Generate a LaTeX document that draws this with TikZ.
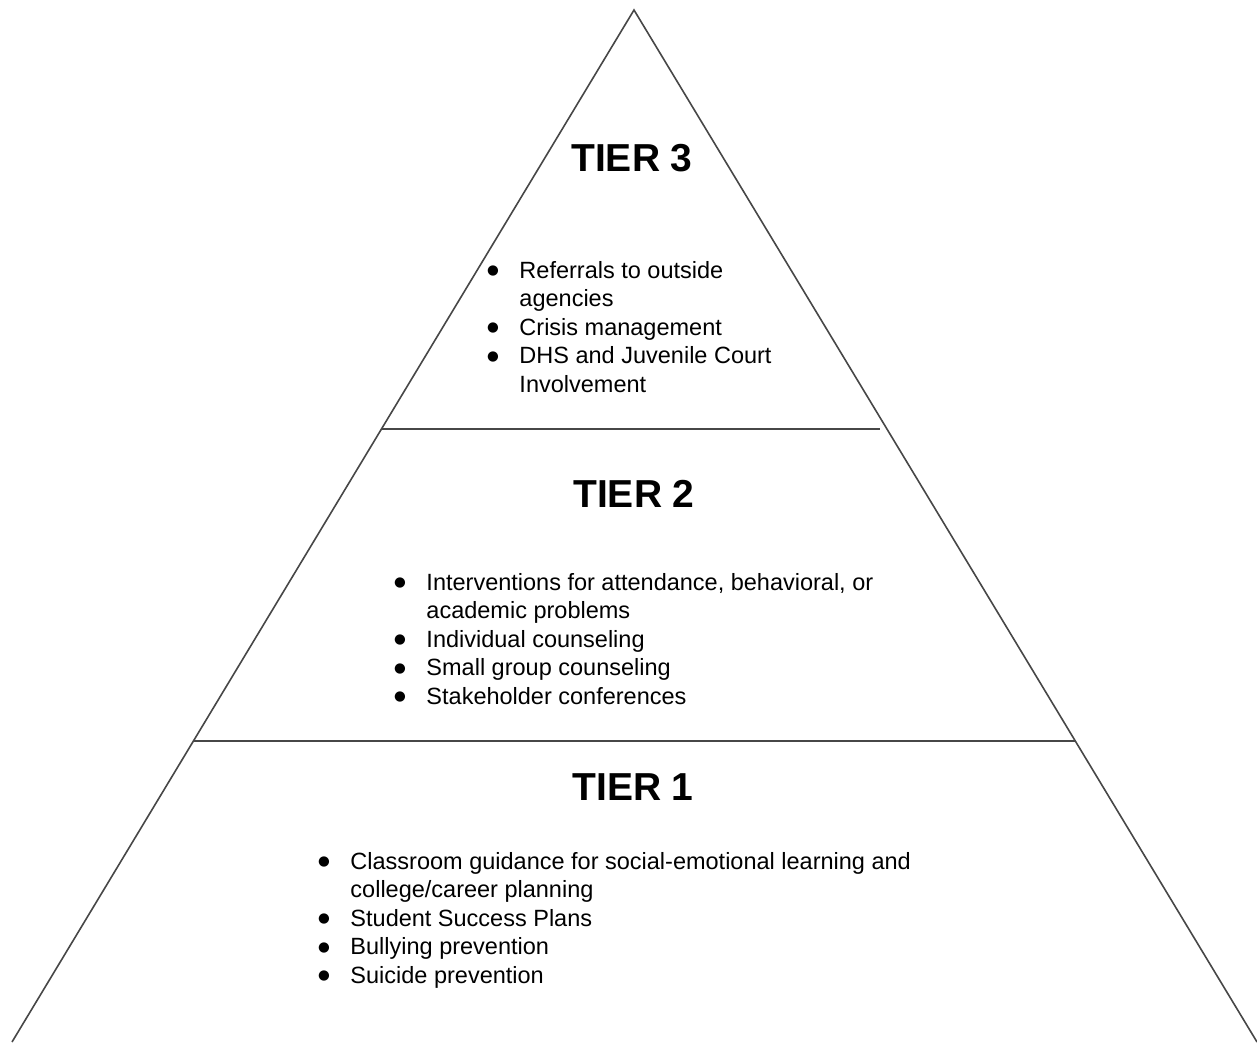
\documentclass[tikz,border=0pt]{standalone}
\usepackage{fontspec}
\setmainfont{Liberation Sans}
\newfontfamily\dotfont{DejaVu Sans}
\usepackage{tikz}

\newcommand{\tierdot}{\raisebox{3.5pt}{\dotfont\fontsize{13.5}{13.5}\selectfont ●}}

\tikzset{
	tiertitle/.style={font=\bfseries\fontsize{39}{39}\selectfont},
	tieritems/.style={anchor=base west, inner sep=0pt, font=\fontsize{23.5}{28.6}\selectfont},
}

\begin{document}
\begin{tikzpicture}[x=1pt,y=-1pt]
			\useasboundingbox (0,0) rectangle (1257,1042);
			% pyramid outline and the two dividing lines
			\coordinate (apex) at (634,10);
			\coordinate (baseleft) at (12,1042);
			\coordinate (baseright) at (1257,1042);
			\draw[line width=1.6pt, black!72] (baseleft) -- (apex) -- (baseright);
			\draw[line width=1.6pt, black!72] (382,429) -- (880,429);
			\draw[line width=1.6pt, black!72] (193,741) -- (1075,741);
			% tier 3
			\node[tiertitle] (tier3) at (632,158) {TIER 3};
			\node[tieritems] (list3) at (487,278) {\begin{tabular}[t]{@{}l@{\hspace{20.5pt}}l@{}}
				\tierdot & Referrals to outside\\
				 & agencies\\
				\tierdot & Crisis management\\
				\tierdot & DHS and Juvenile Court\\
				 & Involvement
			\end{tabular}};
			% tier 2
			\node[tiertitle] (tier2) at (634,494) {TIER 2};
			\node[tieritems] (list2) at (394,590) {\begin{tabular}[t]{@{}l@{\hspace{20.5pt}}l@{}}
				\tierdot & Interventions for attendance, behavioral, or\\
				 & academic problems\\
				\tierdot & Individual counseling\\
				\tierdot & Small group counseling\\
				\tierdot & Stakeholder conferences
			\end{tabular}};
			% tier 1
			\node[tiertitle] (tier1) at (633,787) {TIER 1};
			\node[tieritems] (list1) at (318,869) {\begin{tabular}[t]{@{}l@{\hspace{20.5pt}}l@{}}
				\tierdot & Classroom guidance for social-emotional learning and\\
				 & college/career planning\\
				\tierdot & Student Success Plans\\
				\tierdot & Bullying prevention\\
				\tierdot & Suicide prevention
			\end{tabular}};
		\end{tikzpicture}
\end{document}
